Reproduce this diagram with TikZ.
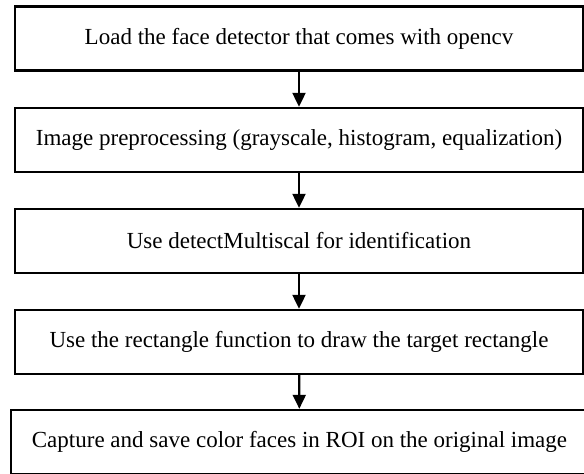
\documentclass[tikz,border=0pt]{standalone}
\usepackage{fontspec}
\setmainfont{Liberation Serif}
\usetikzlibrary{arrows.meta}
\begin{document}
\begin{tikzpicture}[x=1pt,y=-1pt,
  stepbox/.style={draw=black,line width=2.4pt,fill=white,inner sep=0pt,
    minimum width=568pt,minimum height=64pt,
    font=\fontsize{23}{28}\selectfont},
  flow/.style={draw=black,line width=2.2pt,-{Triangle[width=13pt,length=14pt]}}]
  \useasboundingbox (0,0) rectangle (584,474);
  \node[stepbox] (b1) at (299,38.5) {Load the face detector that comes with opencv};
  \node[stepbox] (b2) at (299,140) {Image preprocessing (grayscale, histogram, equalization)};
  \node[stepbox] (b3) at (299,241) {Use detectMultiscal for identification};
  \node[stepbox] (b4) at (299,342) {Use the rectangle function to draw the target rectangle};
  \node[stepbox,minimum width=577pt] (b5) at (299.5,442) {Capture and save color faces in ROI on the original image};
  \draw[flow] (b1) -- (b2);
  \draw[flow] (b2) -- (b3);
  \draw[flow] (b3) -- (b4);
  \draw[flow] (b4) -- (b5);
\end{tikzpicture}
\end{document}
